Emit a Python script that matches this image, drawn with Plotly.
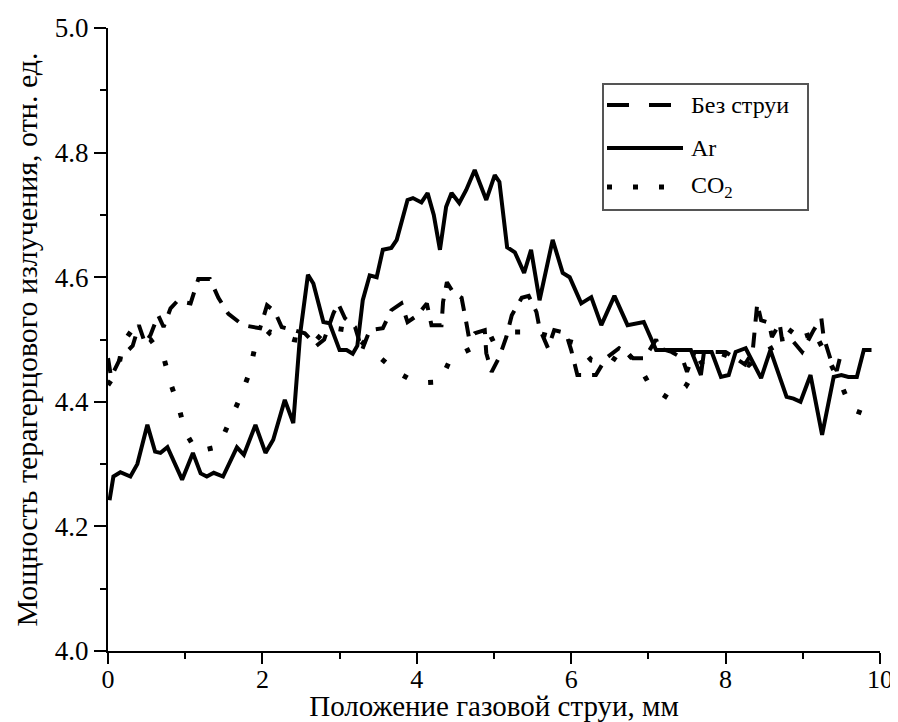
import plotly.graph_objects as go

# ---- data ----
ar_x = [0.02, 0.07, 0.16, 0.29, 0.38, 0.51, 0.61, 0.68, 0.77, 0.96, 1.10, 1.20, 1.28, 1.37, 1.49,
        1.67, 1.76, 1.91, 2.04, 2.14, 2.29, 2.40, 2.49, 2.59, 2.66, 2.79, 2.87, 3.00, 3.09, 3.17,
        3.23, 3.30, 3.39, 3.48, 3.56, 3.67, 3.74, 3.88, 3.95, 4.06, 4.14, 4.22, 4.30, 4.38, 4.45,
        4.55, 4.64, 4.75, 4.90, 5.01, 5.07, 5.17, 5.27, 5.39, 5.48, 5.59, 5.76, 5.89, 5.98, 6.13,
        6.26, 6.39, 6.56, 6.73, 6.94, 7.10, 7.55, 7.68, 7.72, 7.82, 7.94, 8.04, 8.13, 8.26, 8.46,
        8.58, 8.79, 8.88, 8.97, 9.10, 9.25, 9.40, 9.50, 9.59, 9.70, 9.79, 9.89]
ar_y = [4.242, 4.280, 4.287, 4.280, 4.300, 4.363, 4.320, 4.318, 4.327, 4.275, 4.318, 4.285, 4.280, 4.286, 4.280,
        4.327, 4.315, 4.363, 4.318, 4.339, 4.403, 4.366, 4.510, 4.604, 4.590, 4.528, 4.526, 4.483, 4.483, 4.477,
        4.490, 4.563, 4.603, 4.600, 4.644, 4.647, 4.660, 4.724, 4.727, 4.720, 4.735, 4.700, 4.644, 4.713, 4.735,
        4.719, 4.740, 4.772, 4.724, 4.764, 4.753, 4.648, 4.640, 4.607, 4.644, 4.563, 4.660, 4.607, 4.600, 4.558,
        4.568, 4.523, 4.570, 4.523, 4.528, 4.483, 4.483, 4.443, 4.480, 4.480, 4.440, 4.443, 4.480, 4.486, 4.438,
        4.483, 4.408, 4.405, 4.400, 4.443, 4.347, 4.440, 4.443, 4.440, 4.440, 4.483, 4.483]

nojet_x = [0.00, 0.04, 0.16, 0.32, 0.40, 0.48, 0.55, 0.65, 0.72, 0.81, 0.90, 1.07, 1.17, 1.32, 1.43,
           1.56, 1.75, 1.97, 2.06, 2.16, 2.25, 2.55, 2.70, 2.80, 2.92, 2.98, 3.07, 3.20, 3.29, 3.39,
           3.56, 3.67, 3.80, 3.88, 4.01, 4.13, 4.19, 4.32, 4.34, 4.39, 4.47, 4.58, 4.64, 4.68, 4.75,
           4.88, 4.90, 4.97, 5.07, 5.16, 5.23, 5.36, 5.45, 5.55, 5.59, 5.70, 5.78, 5.88, 5.94, 6.00,
           6.08, 6.32, 6.45, 6.62, 6.80, 6.95, 7.10, 7.14, 7.30, 7.44, 7.50, 7.60, 8.00, 8.25, 8.35,
           8.41, 8.46, 8.56, 8.60, 8.70, 8.73, 8.84, 8.99, 9.14, 9.24, 9.27, 9.37, 9.44, 9.50]
nojet_y = [4.470, 4.440, 4.470, 4.490, 4.523, 4.494, 4.507, 4.539, 4.520, 4.550, 4.562, 4.558, 4.597, 4.597, 4.567,
           4.541, 4.523, 4.518, 4.555, 4.545, 4.520, 4.510, 4.490, 4.500, 4.542, 4.558, 4.534, 4.520, 4.483, 4.515,
           4.518, 4.547, 4.558, 4.528, 4.539, 4.558, 4.523, 4.523, 4.560, 4.592, 4.576, 4.567, 4.528, 4.500, 4.510,
           4.515, 4.478, 4.448, 4.472, 4.504, 4.539, 4.567, 4.570, 4.544, 4.518, 4.486, 4.515, 4.512, 4.507, 4.483,
           4.443, 4.443, 4.470, 4.486, 4.470, 4.470, 4.500, 4.486, 4.480, 4.470, 4.448, 4.480, 4.480, 4.460, 4.480,
           4.558, 4.531, 4.527, 4.504, 4.526, 4.500, 4.502, 4.480, 4.515, 4.534, 4.504, 4.464, 4.450, 4.480]

co2_x = [0.00, 0.13, 0.19, 0.31, 0.55, 0.72, 0.81, 0.92, 1.00, 1.15, 1.43, 1.58, 1.71, 1.83, 1.90,
         2.10, 2.40, 2.66, 2.85, 3.11, 3.52, 3.74, 4.00, 4.30, 4.44, 4.66, 5.17, 5.52, 6.06, 6.26,
         6.52, 6.66, 6.88, 7.03, 7.27, 7.48, 7.65, 7.90, 8.30, 8.50, 8.73, 8.92, 9.03, 9.11, 9.20,
         9.50, 9.63, 9.89]
co2_y = [4.427, 4.450, 4.494, 4.515, 4.500, 4.472, 4.430, 4.390, 4.352, 4.320, 4.328, 4.368, 4.406, 4.446, 4.486,
         4.512, 4.500, 4.494, 4.520, 4.515, 4.472, 4.448, 4.430, 4.432, 4.470, 4.483, 4.512, 4.512, 4.494, 4.467,
         4.462, 4.488, 4.457, 4.424, 4.405, 4.424, 4.460, 4.480, 4.459, 4.480, 4.495, 4.526, 4.518, 4.488, 4.500,
         4.427, 4.388, 4.376]

legend_names = ["Без струи", "Ar", "CO<sub>2</sub>"]

FONT = "Liberation Serif, Times New Roman, Times, DejaVu Serif, serif"

# The page body has an 8px margin, so the figure is drawn 8px in from the window corner.
OFF = 8
W, H = 898 - OFF, 722 - OFF
PL, PR, PT, PB = 108, 880, 28, 651  # plot area in window pixels

fig = go.Figure()
fig.add_trace(go.Scatter(x=nojet_x, y=nojet_y, mode="lines", name=legend_names[0],
                         line=dict(color="black", width=4, dash="15px,11px")))
fig.add_trace(go.Scatter(x=ar_x, y=ar_y, mode="lines", name=legend_names[1],
                         line=dict(color="black", width=4)))
fig.add_trace(go.Scatter(x=co2_x, y=co2_y, mode="lines", name=legend_names[2],
                         line=dict(color="black", width=5, dash="5px,22px")))

# manual legend (paper coords)
def px2x(px):
    return (px - PL) / float(PR - PL)

def py2y(py):
    return (PB - py) / float(PB - PT)

shapes = [dict(type="rect", xref="paper", yref="paper",
               x0=px2x(603), x1=px2x(808), y0=py2y(210), y1=py2y(84),
               line=dict(color="#555555", width=2), fillcolor="white", layer="above")]
rows = [(105, "22px,20px", 4, legend_names[0]), (148, "solid", 4, legend_names[1]),
        (187, "5px,21px", 5, legend_names[2])]
annotations = []
for py, dash, w, name in rows:
    shapes.append(dict(type="line", xref="paper", yref="paper",
                       x0=px2x(607), x1=px2x(683), y0=py2y(py), y1=py2y(py),
                       line=dict(color="black", width=w, dash=dash), layer="above"))
    annotations.append(dict(xref="paper", yref="paper", x=px2x(689), y=py2y(py),
                            xanchor="left", yanchor="middle", text=name, showarrow=False,
                            font=dict(family=FONT, size=24, color="black")))

fig.update_layout(
    width=W, height=H,
    margin=dict(l=PL - OFF, r=W - (PR - OFF), t=PT - OFF, b=H - (PB - OFF), autoexpand=False),
    paper_bgcolor="white", plot_bgcolor="white",
    showlegend=False,
    shapes=shapes, annotations=annotations,
    font=dict(family=FONT, color="black"),
)
fig.update_xaxes(range=[0, 10], tick0=0, dtick=2, ticks="outside", ticklen=11, tickwidth=2,
                 tickcolor="black", showline=True, linecolor="black", linewidth=2,
                 showgrid=False, zeroline=False, automargin=False,
                 ticklabeloverflow="allow", ticklabelstandoff=-7,
                 minor=dict(dtick=1, ticks="outside", ticklen=6, tickwidth=2, tickcolor="black"),
                 tickfont=dict(family=FONT, size=26, color="black"),
                 title=dict(text="Положение газовой струи, мм", standoff=0,
                            font=dict(family=FONT, size=29, color="black")))
fig.update_yaxes(range=[4.0, 5.0], tick0=4.0, dtick=0.2, tickformat=".1f", ticks="outside",
                 ticklen=12, tickwidth=2, tickcolor="black", showline=True, linecolor="black",
                 linewidth=2, showgrid=False, zeroline=False, automargin=False,
                 minor=dict(dtick=0.1, ticks="outside", ticklen=6, tickwidth=2, tickcolor="black"),
                 tickfont=dict(family=FONT, size=27, color="black"),
                 title=dict(text="Мощность терагерцового излучения, отн. ед.", standoff=8,
                            font=dict(family=FONT, size=30, color="black")))

fig.write_html("out.html")
